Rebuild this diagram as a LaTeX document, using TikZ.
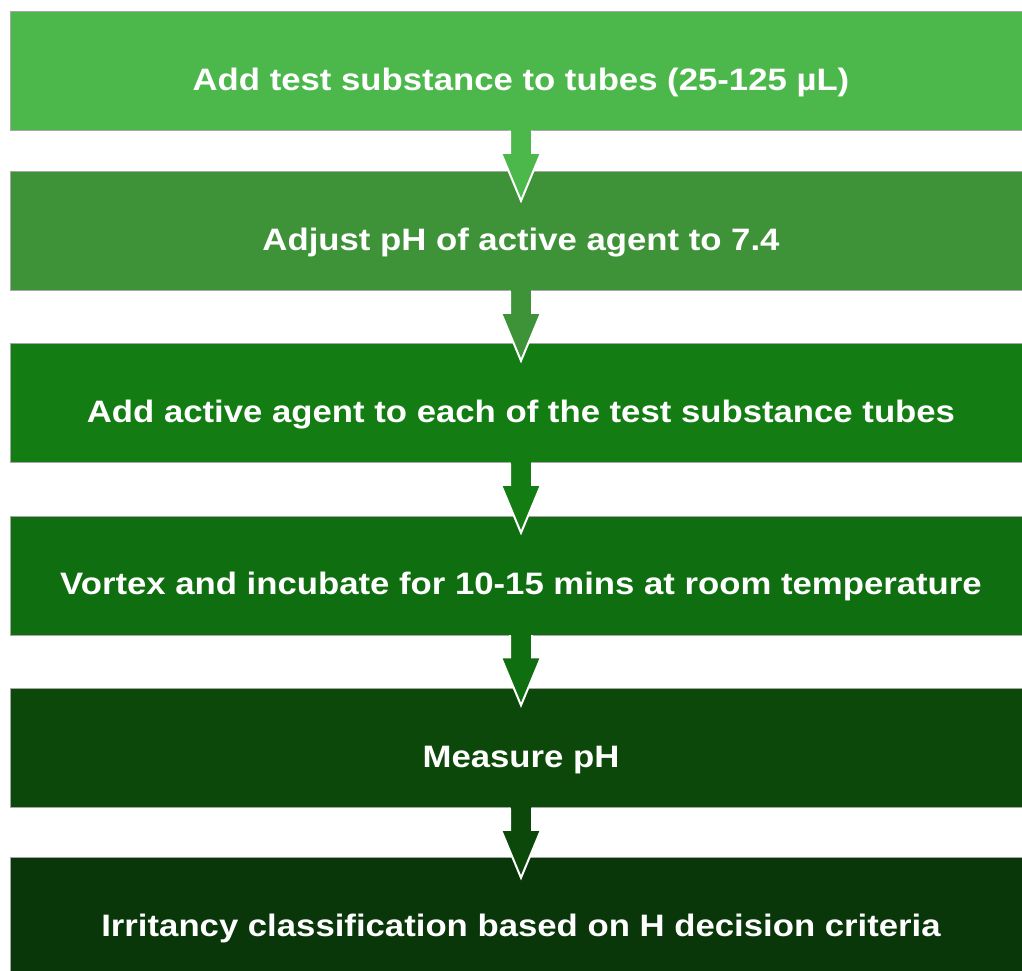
\documentclass[tikz,border=0pt]{standalone}
\usepackage{fontspec}
\newfontfamily\boxfont[FakeStretch=1.12]{Liberation Sans}
\usetikzlibrary{calc}
\definecolor{cA}{RGB}{76,184,76}
\definecolor{cB}{RGB}{62,147,57}
\definecolor{cC}{RGB}{19,125,19}
\definecolor{cD}{RGB}{15,110,15}
\definecolor{cE}{RGB}{12,72,10}
\definecolor{cF}{RGB}{10,55,10}
\tikzset{
  stepbox/.style={rectangle, inner sep=0pt, minimum width=1022pt, minimum height=119pt,
    text=white, font=\boxfont\bfseries\fontsize{31}{36}\selectfont,
    text height=42pt, text depth=4pt, draw=black!35, line width=0.6pt},
  flowarrow/.style={draw=white, line width=2pt, line join=miter}
}
\begin{document}
\begin{tikzpicture}[x=1pt,y=-1pt]
\clip (0,0) rectangle (1022,970);
\fill[white] (0,0) rectangle (1022,970);
\node[stepbox, fill=cA] (b1) at (521,71) {Add test substance to tubes (25-125 µL)};
\node[stepbox, fill=cB] (b2) at (521,231) {Adjust pH of active agent to 7.4};
\node[stepbox, fill=cC] (b3) at (521,403) {Add active agent to each of the test substance tubes};
\node[stepbox, fill=cD] (b4) at (521,575.5) {Vortex and incubate for 10-15 mins at room temperature};
\node[stepbox, fill=cE] (b5) at (521,748) {Measure pH};
\node[stepbox, fill=cF] (b6) at (521,917) {Irritancy classification based on H decision criteria};
\foreach \a/\c in {b1/cA,b2/cB,b3/cC,b4/cD,b5/cE}{
  \fill[\c] ($(\a.south)+(-11,-2)$) -- ++(0,24) -- ++(-9,0) -- ($(\a.south)+(0,70)$)
     -- ($(\a.south)+(20,22)$) -- ++(-9,0) -- ++(0,-24) -- cycle;
  \draw[flowarrow] ($(\a.south)+(-11,-0.3)$) -- ($(\a.south)+(-11,22)$) -- ($(\a.south)+(-20,22)$) -- ($(\a.south)+(0,70)$)
     -- ($(\a.south)+(20,22)$) -- ($(\a.south)+(11,22)$) -- ($(\a.south)+(11,-0.3)$);
  \fill[\c] ($(\a.south)+(-10,-2)$) rectangle ($(\a.south)+(10,1)$);
}
\end{tikzpicture}
\end{document}
